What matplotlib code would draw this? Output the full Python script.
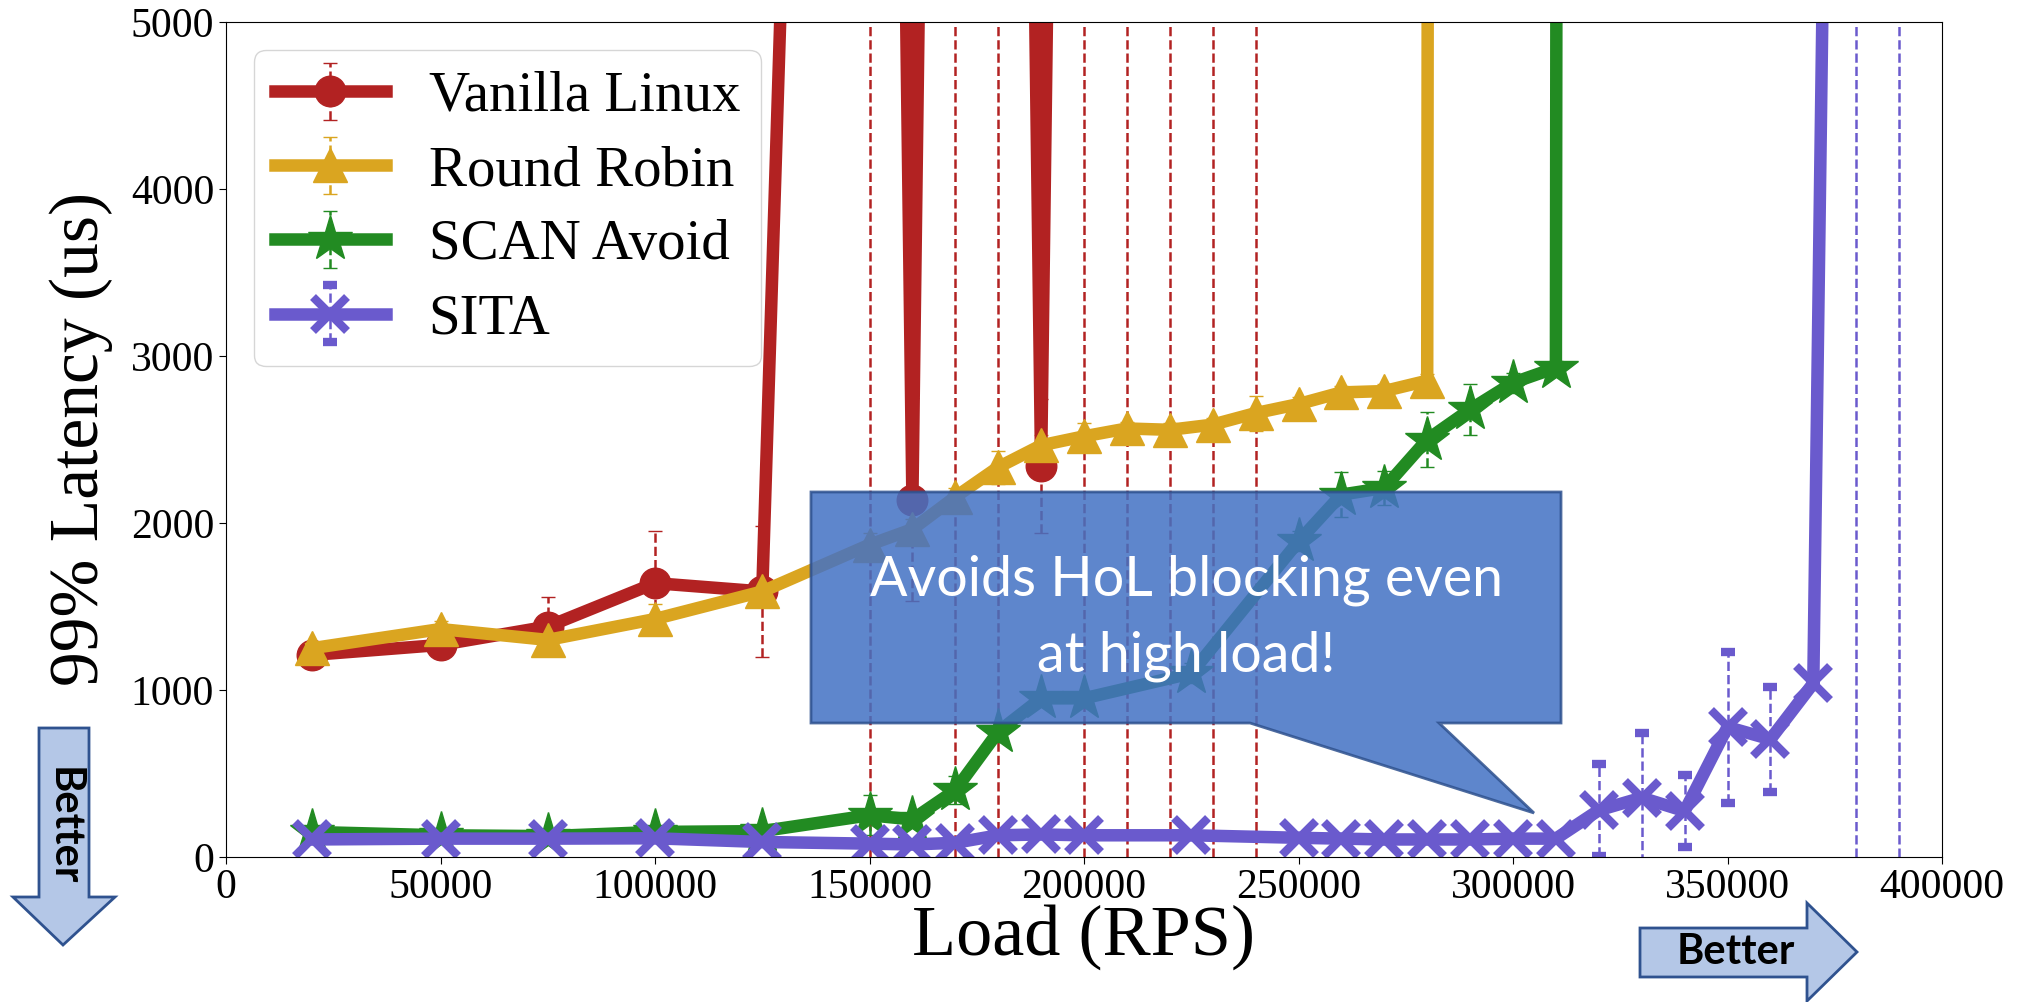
import matplotlib
matplotlib.use('Agg')
import matplotlib.pyplot as plt
from matplotlib.patches import Polygon

W, H, DPI = 2023, 1002, 100

# ---------------- data ----------------
load_vanilla = [20000, 50000, 75000, 100000, 125000, 150000, 160000, 170000,
                180000, 190000, 200000, 210000, 220000, 230000, 240000]
lat_vanilla = [1210, 1270, 1380, 1640, 1590, 22000, 2140, 22000,
               22000, 2340, 22000, 22000, 22000, 22000, 22000]
err_vanilla = [40, 40, 175, 310, 395, 30000, 610, 30000,
               30000, 400, 30000, 30000, 30000, 30000, 30000]

load_rr = [20000, 50000, 75000, 100000, 125000, 150000, 160000, 170000, 180000,
           190000, 200000, 210000, 220000, 230000, 240000, 250000, 260000,
           270000, 280000, 290000]
lat_rr = [1250, 1365, 1300, 1425, 1590, 1870, 1963, 2156, 2334,
          2465, 2519, 2566, 2558, 2589, 2658, 2712, 2782,
          2790, 2852, 200000]
err_rr = [40, 50, 50, 90, 60, 70, 60, 55, 100,
          60, 80, 40, 40, 40, 105, 40, 40,
          40, 40, 0]

load_scan = [20000, 50000, 75000, 100000, 125000, 150000, 160000, 170000, 180000,
             190000, 200000, 225000, 250000, 260000, 270000, 280000, 290000,
             300000, 310000, 320000]
lat_scan = [150, 130, 125, 150, 155, 250, 225, 400, 750,
            950, 950, 1100, 1890, 2170, 2210, 2500, 2680,
            2840, 2930, 200000]
err_scan = [20, 20, 20, 20, 20, 120, 40, 85, 60,
            40, 40, 60, 60, 135, 100, 162, 155,
            60, 40, 0]

load_sita = [20000, 50000, 75000, 100000, 125000, 150000, 160000, 170000, 180000,
             190000, 200000, 225000, 250000, 260000, 270000, 280000, 290000,
             300000, 310000, 320000, 330000, 340000, 350000, 360000, 370000,
             380000, 390000]
lat_sita = [105, 110, 110, 112, 90, 80, 75, 85, 130,
            135, 130, 130, 115, 110, 105, 105, 105,
            110, 110, 280, 355, 275, 778, 705, 1040,
            20000, 20000]
err_sita = [10, 10, 10, 10, 10, 10, 10, 10, 10,
            10, 10, 10, 10, 10, 10, 10, 10,
            10, 10, 275, 390, 215, 452, 315, 20,
            30000, 30000]

labels = ['Vanilla Linux', 'Round Robin', 'SCAN Avoid', 'SITA']
colors = ['#b22222', '#daa520', '#228b22', '#6a5acd']
markers = ['o', '^', '*', 'x']
msizes = [22, 24, 34, 24]
medgew = [1, 1, 1, 6]
capthicks = [1.5, 1.5, 1.5, 5]

xticks = [0, 50000, 100000, 150000, 200000, 250000, 300000, 350000, 400000]
yticks = [0, 1000, 2000, 3000, 4000, 5000]

callout_text = 'Avoids HoL blocking even\nat high load!'

# ---------------- figure ----------------
plt.rcParams['font.family'] = ['Liberation Serif', 'DejaVu Serif']
fig = plt.figure(figsize=(W / DPI, H / DPI), dpi=DPI)
ax = fig.add_axes([226 / W, 1 - 857 / H, (1942 - 226) / W, (857 - 22) / H])

data = [(load_vanilla, lat_vanilla, err_vanilla),
        (load_rr, lat_rr, err_rr),
        (load_scan, lat_scan, err_scan),
        (load_sita, lat_sita, err_sita)]

for (x, y, e), lab, c, m, ms, mew, ct in zip(data, labels, colors, markers,
                                              msizes, medgew, capthicks):
    cont = ax.errorbar(x, y, yerr=e, color=c, ecolor=c, marker=m, markersize=ms,
                       markeredgewidth=mew, lw=9, elinewidth=1.8, capsize=5,
                       capthick=ct, label=lab)
    for lc in cont[2]:
        lc.set_linestyle('--')

ax.set_xlim(0, 400000)
ax.set_ylim(0, 5000)
ax.set_xticks(xticks)
ax.set_yticks(yticks)
ax.tick_params(labelsize=30, length=5)
ax.set_xlabel('Load (RPS)', fontsize=52)
ax.set_ylabel('99% Latency (us)', fontsize=50)
ax.xaxis.set_label_coords(0.5, -0.056)
ax.yaxis.set_label_coords(-0.066, 0.5)

leg = ax.legend(loc='upper left', fontsize=41, handlelength=1.95, labelspacing=0.39,
                borderpad=0.36, handletextpad=0.75, fancybox=True)
leg.get_frame().set_edgecolor('#cccccc')


def fp(px, py):
    return (px / W, 1 - py / H)


# callout bubble
bubble = [fp(811, 492), fp(1561, 492), fp(1561, 723), fp(1439, 723),
          fp(1534, 813), fp(1250, 723), fp(811, 723)]
fig.add_artist(Polygon(bubble, closed=True, transform=fig.transFigure,
                       facecolor='#4472c4', alpha=0.86, edgecolor='#2f528f',
                       lw=2, zorder=5))
fig.text(1186 / W, 1 - 618 / H, callout_text, ha='center', va='center',
         multialignment='center', linespacing=1.6,
         color='white', fontsize=40, family=['Lato', 'DejaVu Sans'], zorder=6)

# "Better" arrows
down_arrow = [fp(39, 728), fp(89, 728), fp(89, 897), fp(115, 897), fp(63, 945),
              fp(13, 897), fp(39, 897)]
fig.add_artist(Polygon(down_arrow, closed=True, transform=fig.transFigure,
                       facecolor='#b4c7e7', edgecolor='#2f528f', lw=2, zorder=5))
fig.text(64 / W, 1 - 826 / H, 'Better', rotation=270, ha='center', va='center',
         fontsize=30, fontweight='bold', family=['Lato', 'DejaVu Sans'], zorder=6)

right_arrow = [fp(1640, 928), fp(1807, 928), fp(1807, 903), fp(1857, 952),
               fp(1807, 1001), fp(1807, 977), fp(1640, 977)]
fig.add_artist(Polygon(right_arrow, closed=True, transform=fig.transFigure,
                       facecolor='#b4c7e7', edgecolor='#2f528f', lw=2, zorder=5))
fig.text(1736 / W, 1 - 952 / H, 'Better', ha='center', va='center',
         fontsize=30, fontweight='bold', family=['Lato', 'DejaVu Sans'], zorder=6)

fig.savefig('out.png', dpi=DPI)
